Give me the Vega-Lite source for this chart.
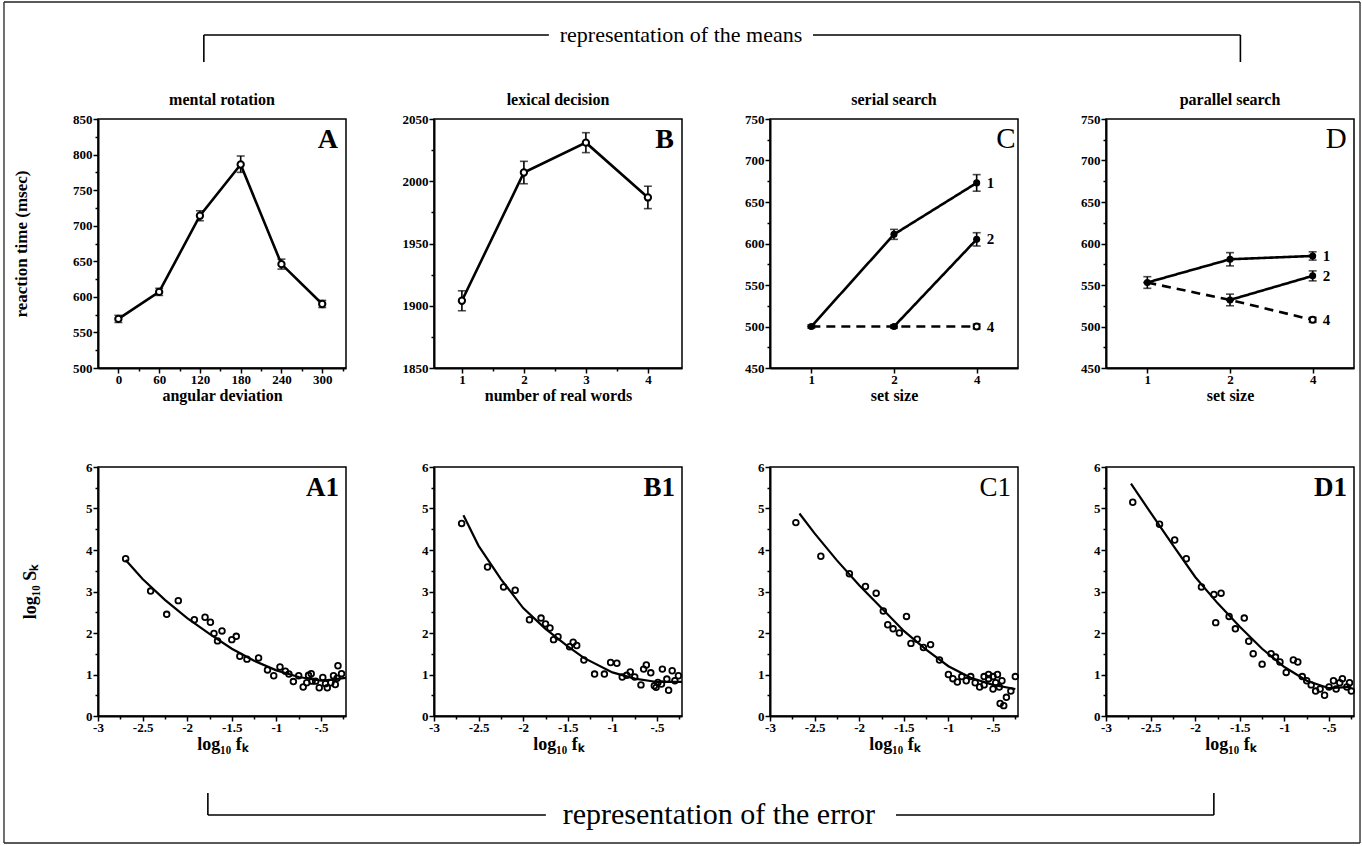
{
  "$schema": "https://vega.github.io/schema/vega-lite/v6.json",
  "background": "white",
  "padding": {"left": 3, "top": 0, "right": 0, "bottom": 0},
  "columns": 4,
  "bounds": "flush",
  "spacing": {"row": 99, "column": 88},
  "config": {
    "font": "Liberation Serif",
    "view": {"stroke": null},
    "axis": {"labelFont": "Liberation Serif", "labelFontWeight": "bold", "labelFontSize": 13, "labelColor": "black", "domainColor": "black", "domainWidth": 2, "tickColor": "black", "tickWidth": 1.5, "grid": false, "titleFont": "Liberation Serif", "titleFontWeight": "bold", "titleFontSize": 17, "titleColor": "black", "labelPadding": 1, "labelFlush": false, "labelOverlap": false},
    "axisX": {"labelPadding": 0, "titleFontSize": 16},
    "title": {"font": "Liberation Serif", "fontSize": 16, "fontWeight": "bold", "color": "black", "offset": 5}
  },
  "datasets": {
    "A": [
      {"deg": 0, "rt": 569, "lo": 564, "hi": 574},
      {"deg": 60, "rt": 607, "lo": 602, "hi": 612},
      {"deg": 120, "rt": 714, "lo": 707, "hi": 721},
      {"deg": 180, "rt": 786, "lo": 775, "hi": 798},
      {"deg": 240, "rt": 646, "lo": 639, "hi": 653},
      {"deg": 300, "rt": 590, "lo": 585, "hi": 595}
    ],
    "B": [
      {"n": 1, "rt": 1904, "lo": 1896, "hi": 1912},
      {"n": 2, "rt": 2007, "lo": 1998, "hi": 2016},
      {"n": 3, "rt": 2031, "lo": 2023, "hi": 2039},
      {"n": 4, "rt": 1987, "lo": 1978, "hi": 1996}
    ],
    "C": [
      {"size": "1", "series": "1", "rt": 500, "lo": 498, "hi": 502},
      {"size": "2", "series": "1", "rt": 611, "lo": 605, "hi": 617},
      {"size": "4", "series": "1", "rt": 673, "lo": 663, "hi": 683},
      {"size": "2", "series": "2", "rt": 500, "lo": 498, "hi": 502},
      {"size": "4", "series": "2", "rt": 605, "lo": 597, "hi": 613},
      {"size": "1", "series": "4", "rt": 500, "lo": 500, "hi": 500},
      {"size": "2", "series": "4", "rt": 500, "lo": 500, "hi": 500},
      {"size": "4", "series": "4", "rt": 500, "lo": 497, "hi": 503}
    ],
    "D": [
      {"size": "1", "series": "1", "rt": 553, "lo": 546, "hi": 560},
      {"size": "2", "series": "1", "rt": 581, "lo": 573, "hi": 589},
      {"size": "4", "series": "1", "rt": 585, "lo": 580, "hi": 590},
      {"size": "2", "series": "2", "rt": 532, "lo": 525, "hi": 539},
      {"size": "4", "series": "2", "rt": 561, "lo": 555, "hi": 567},
      {"size": "1", "series": "4", "rt": 553, "lo": 553, "hi": 553},
      {"size": "2", "series": "4", "rt": 532, "lo": 532, "hi": 532},
      {"size": "4", "series": "4", "rt": 508, "lo": 505, "hi": 511}
    ],
    "A1pts": [
      {"lf": -2.69, "ls": 3.79}, {"lf": -2.41, "ls": 3.01}, {"lf": -2.23, "ls": 2.45}, {"lf": -2.10, "ls": 2.78},
      {"lf": -1.92, "ls": 2.32}, {"lf": -1.80, "ls": 2.38}, {"lf": -1.74, "ls": 2.26}, {"lf": -1.70, "ls": 1.99},
      {"lf": -1.61, "ls": 2.05}, {"lf": -1.66, "ls": 1.81}, {"lf": -1.50, "ls": 1.84}, {"lf": -1.45, "ls": 1.92},
      {"lf": -1.41, "ls": 1.44}, {"lf": -1.33, "ls": 1.37}, {"lf": -1.20, "ls": 1.40}, {"lf": -1.10, "ls": 1.11},
      {"lf": -1.03, "ls": 0.97}, {"lf": -0.96, "ls": 1.18}, {"lf": -0.90, "ls": 1.08}, {"lf": -0.86, "ls": 1.01},
      {"lf": -0.81, "ls": 0.83}, {"lf": -0.75, "ls": 0.97}, {"lf": -0.70, "ls": 0.70}, {"lf": -0.66, "ls": 0.80},
      {"lf": -0.61, "ls": 1.02}, {"lf": -0.56, "ls": 0.84}, {"lf": -0.52, "ls": 0.68}, {"lf": -0.48, "ls": 0.93},
      {"lf": -0.43, "ls": 0.68}, {"lf": -0.39, "ls": 0.80}, {"lf": -0.36, "ls": 0.97}, {"lf": -0.32, "ls": 0.91},
      {"lf": -0.31, "ls": 1.21}, {"lf": -0.27, "ls": 1.02}, {"lf": -0.34, "ls": 0.76}, {"lf": -0.60, "ls": 0.84},
      {"lf": -0.64, "ls": 0.98}, {"lf": -0.45, "ls": 0.78}
    ],
    "A1fit": [
      {"lf": -2.69, "ls": 3.76}, {"lf": -2.5, "ls": 3.3}, {"lf": -2.25, "ls": 2.8}, {"lf": -2.0, "ls": 2.36},
      {"lf": -1.75, "ls": 1.98}, {"lf": -1.5, "ls": 1.62}, {"lf": -1.25, "ls": 1.33}, {"lf": -1.0, "ls": 1.1},
      {"lf": -0.75, "ls": 0.94}, {"lf": -0.5, "ls": 0.85}, {"lf": -0.22, "ls": 0.92}
    ],
    "B1pts": [
      {"lf": -2.69, "ls": 4.64}, {"lf": -2.40, "ls": 3.59}, {"lf": -2.22, "ls": 3.11}, {"lf": -2.09, "ls": 3.03},
      {"lf": -1.93, "ls": 2.32}, {"lf": -1.80, "ls": 2.36}, {"lf": -1.75, "ls": 2.22}, {"lf": -1.70, "ls": 2.12},
      {"lf": -1.66, "ls": 1.84}, {"lf": -1.61, "ls": 1.91}, {"lf": -1.48, "ls": 1.67}, {"lf": -1.44, "ls": 1.78},
      {"lf": -1.40, "ls": 1.70}, {"lf": -1.32, "ls": 1.35}, {"lf": -1.20, "ls": 1.01}, {"lf": -1.09, "ls": 1.01},
      {"lf": -1.02, "ls": 1.29}, {"lf": -0.95, "ls": 1.27}, {"lf": -0.89, "ls": 0.94}, {"lf": -0.84, "ls": 0.98},
      {"lf": -0.80, "ls": 1.06}, {"lf": -0.75, "ls": 0.94}, {"lf": -0.68, "ls": 0.75}, {"lf": -0.65, "ls": 1.13},
      {"lf": -0.62, "ls": 1.23}, {"lf": -0.57, "ls": 1.04}, {"lf": -0.53, "ls": 0.73}, {"lf": -0.49, "ls": 0.81},
      {"lf": -0.44, "ls": 1.13}, {"lf": -0.39, "ls": 0.89}, {"lf": -0.37, "ls": 0.62}, {"lf": -0.33, "ls": 1.09},
      {"lf": -0.30, "ls": 0.85}, {"lf": -0.26, "ls": 0.97}, {"lf": -0.51, "ls": 0.69}, {"lf": -0.45, "ls": 0.77}
    ],
    "B1fit": [
      {"lf": -2.67, "ls": 4.84}, {"lf": -2.5, "ls": 4.1}, {"lf": -2.25, "ls": 3.3}, {"lf": -2.0, "ls": 2.6},
      {"lf": -1.75, "ls": 2.1}, {"lf": -1.5, "ls": 1.68}, {"lf": -1.32, "ls": 1.4}, {"lf": -1.0, "ls": 1.05},
      {"lf": -0.75, "ls": 0.9}, {"lf": -0.5, "ls": 0.82}, {"lf": -0.22, "ls": 0.82}
    ],
    "C1pts": [
      {"lf": -2.71, "ls": 4.66}, {"lf": -2.43, "ls": 3.85}, {"lf": -2.11, "ls": 3.43}, {"lf": -1.93, "ls": 3.12},
      {"lf": -1.81, "ls": 2.96}, {"lf": -1.73, "ls": 2.53}, {"lf": -1.47, "ls": 2.40}, {"lf": -1.68, "ls": 2.2},
      {"lf": -1.62, "ls": 2.1}, {"lf": -1.55, "ls": 2.0}, {"lf": -1.42, "ls": 1.75}, {"lf": -1.35, "ls": 1.85},
      {"lf": -1.28, "ls": 1.65}, {"lf": -1.20, "ls": 1.72}, {"lf": -1.10, "ls": 1.35}, {"lf": -1.0, "ls": 1.0},
      {"lf": -0.95, "ls": 0.9}, {"lf": -0.9, "ls": 0.82}, {"lf": -0.85, "ls": 0.95}, {"lf": -0.8, "ls": 0.85},
      {"lf": -0.75, "ls": 0.95}, {"lf": -0.7, "ls": 0.8}, {"lf": -0.65, "ls": 0.7}, {"lf": -0.6, "ls": 0.75},
      {"lf": -0.55, "ls": 0.9}, {"lf": -0.5, "ls": 0.95}, {"lf": -0.47, "ls": 0.8}, {"lf": -0.45, "ls": 1.0},
      {"lf": -0.43, "ls": 0.7}, {"lf": -0.4, "ls": 0.85}, {"lf": -0.42, "ls": 0.3}, {"lf": -0.38, "ls": 0.25},
      {"lf": -0.35, "ls": 0.45}, {"lf": -0.3, "ls": 0.6}, {"lf": -0.25, "ls": 0.95}, {"lf": -0.5, "ls": 0.65},
      {"lf": -0.6, "ls": 0.95}, {"lf": -0.55, "ls": 1.0}
    ],
    "C1fit": [
      {"lf": -2.67, "ls": 4.88}, {"lf": -2.5, "ls": 4.4}, {"lf": -2.25, "ls": 3.75}, {"lf": -2.0, "ls": 3.15},
      {"lf": -1.75, "ls": 2.6}, {"lf": -1.5, "ls": 2.05}, {"lf": -1.25, "ls": 1.6}, {"lf": -1.0, "ls": 1.2},
      {"lf": -0.75, "ls": 0.92}, {"lf": -0.5, "ls": 0.75}, {"lf": -0.25, "ls": 0.65}
    ],
    "D1pts": [
      {"lf": -2.70, "ls": 5.15}, {"lf": -2.40, "ls": 4.62}, {"lf": -2.23, "ls": 4.24}, {"lf": -2.10, "ls": 3.79},
      {"lf": -1.93, "ls": 3.11}, {"lf": -1.79, "ls": 2.93}, {"lf": -1.71, "ls": 2.96}, {"lf": -1.62, "ls": 2.40},
      {"lf": -1.45, "ls": 2.36}, {"lf": -1.77, "ls": 2.25}, {"lf": -1.55, "ls": 2.1}, {"lf": -1.4, "ls": 1.8},
      {"lf": -1.35, "ls": 1.5}, {"lf": -1.25, "ls": 1.25}, {"lf": -1.15, "ls": 1.5}, {"lf": -1.1, "ls": 1.42},
      {"lf": -1.05, "ls": 1.3}, {"lf": -0.98, "ls": 1.05}, {"lf": -0.9, "ls": 1.35}, {"lf": -0.85, "ls": 1.3},
      {"lf": -0.8, "ls": 0.95}, {"lf": -0.75, "ls": 0.85}, {"lf": -0.7, "ls": 0.75}, {"lf": -0.65, "ls": 0.6},
      {"lf": -0.6, "ls": 0.65}, {"lf": -0.55, "ls": 0.5}, {"lf": -0.5, "ls": 0.7}, {"lf": -0.45, "ls": 0.85},
      {"lf": -0.42, "ls": 0.65}, {"lf": -0.38, "ls": 0.8}, {"lf": -0.35, "ls": 0.9}, {"lf": -0.3, "ls": 0.7},
      {"lf": -0.27, "ls": 0.8}, {"lf": -0.25, "ls": 0.6}
    ],
    "D1fit": [
      {"lf": -2.72, "ls": 5.6}, {"lf": -2.5, "ls": 4.9}, {"lf": -2.25, "ls": 4.12}, {"lf": -2.0, "ls": 3.35},
      {"lf": -1.75, "ls": 2.72}, {"lf": -1.5, "ls": 2.15}, {"lf": -1.25, "ls": 1.62}, {"lf": -1.0, "ls": 1.18},
      {"lf": -0.75, "ls": 0.85}, {"lf": -0.5, "ls": 0.67}, {"lf": -0.25, "ls": 0.7}
    ],
    "bracketTop": [
      {"x": 0.315, "x2": 1.342, "y": 35, "y2": 35},
      {"x": 2.128, "x2": 3.40, "y": 35, "y2": 35},
      {"x": 0.315, "x2": 0.315, "y": 35, "y2": 62},
      {"x": 3.40, "x2": 3.40, "y": 35, "y2": 62}
    ],
    "frame": [
      {"x": -0.2798, "x2": 3.756, "y": 2, "y2": 2},
      {"x": -0.2798, "x2": 3.756, "y": 843, "y2": 843},
      {"x": -0.2798, "x2": -0.2798, "y": 2, "y2": 843},
      {"x": 3.756, "x2": 3.756, "y": 2, "y2": 843}
    ],
    "bracketBot": [
      {"x": 0.327, "x2": 1.333, "y": 0, "y2": 0},
      {"x": 2.375, "x2": 3.321, "y": 0, "y2": 0},
      {"x": 0.327, "x2": 0.327, "y": -22, "y2": 0},
      {"x": 3.321, "x2": 3.321, "y": -22, "y2": 0}
    ]
  },
  "concat": [
    {
      "width": 248, "height": 20,
      "encoding": {
        "x": {"field": "x", "type": "quantitative", "scale": {"domain": [0, 0.738095], "nice": false, "zero": false}, "axis": null},
        "y": {"field": "y", "type": "quantitative", "scale": {"domain": [0, 20], "reverse": true, "nice": false, "zero": false}, "axis": null}
      },
      "layer": [
        {"data": {"name": "frame"}, "mark": {"type": "rule", "color": "#222222", "strokeWidth": 1.3},
         "encoding": {"x2": {"field": "x2"}, "y2": {"field": "y2"}}},
        {"data": {"name": "bracketTop"}, "mark": {"type": "rule", "color": "black", "strokeWidth": 1.6},
         "encoding": {"x2": {"field": "x2"}, "y2": {"field": "y2"}}},
        {"data": {"values": [{"x": 1.735, "y": 35, "label": "representation of the means"}]},
         "mark": {"type": "text", "font": "Liberation Serif", "fontSize": 22, "color": "black", "align": "center", "baseline": "middle"},
         "encoding": {"text": {"field": "label"}}}
      ]
    },
    {"width": 248, "height": 20, "data": {"values": []}, "mark": "point"},
    {"width": 248, "height": 20, "data": {"values": []}, "mark": "point"},
    {"width": 248, "height": 20, "data": {"values": []}, "mark": "point"},
    {
      "width": 248, "height": 249,
      "view": {"stroke": "black", "strokeWidth": 1.5},
      "title": "mental rotation",
      "data": {"name": "A"},
      "encoding": {
        "x": {"field": "deg", "type": "quantitative", "scale": {"domain": [-30, 335], "nice": false, "zero": false},
              "axis": {"title": "angular deviation", "titlePadding": 1, "labelOverlap": false, "values": [0, 30, 60, 90, 120, 150, 180, 210, 240, 270, 300, 330],
                       "labelExpr": "datum.value % 60 == 0 ? '' + datum.value : ''",
                       "tickSize": {"condition": {"test": "datum.value % 60 != 0", "value": 3}, "value": 5}}},
        "y": {"field": "rt", "type": "quantitative", "scale": {"domain": [500, 850], "nice": false, "zero": false},
              "axis": {"title": "reaction time (msec)", "titlePadding": 42, "labelOverlap": false, "values": [500, 525, 550, 575, 600, 625, 650, 675, 700, 725, 750, 775, 800, 825, 850],
                       "labelExpr": "datum.value % 50 == 0 ? '' + datum.value : ''",
                       "tickSize": {"condition": {"test": "datum.value % 50 != 0", "value": 3}, "value": 5}}}
      },
      "layer": [
        {"mark": {"type": "rule", "color": "black", "strokeWidth": 1.6},
         "encoding": {"y": {"field": "lo", "type": "quantitative"}, "y2": {"field": "hi"}}},
        {"mark": {"type": "tick", "orient": "horizontal", "color": "black", "size": 8, "thickness": 1.6},
         "encoding": {"y": {"field": "lo", "type": "quantitative"}}},
        {"mark": {"type": "tick", "orient": "horizontal", "color": "black", "size": 8, "thickness": 1.6},
         "encoding": {"y": {"field": "hi", "type": "quantitative"}}},
        {"mark": {"type": "line", "color": "black", "strokeWidth": 2.6}},
        {"mark": {"type": "point", "filled": true, "fill": "white", "stroke": "black", "strokeWidth": 2, "size": 40, "opacity": 1}},
        {"data": {"values": [{"panel": "A", "deg": 335, "rt": 850}]},
         "mark": {"type": "text", "font": "Liberation Serif", "fontSize": 28, "fontWeight": "bold", "color": "black", "align": "right", "baseline": "top", "dx": -8, "dy": 7},
         "encoding": {"text": {"field": "panel"}}}
      ]
    },
    {
      "width": 248, "height": 249,
      "view": {"stroke": "black", "strokeWidth": 1.5},
      "title": "lexical decision",
      "data": {"name": "B"},
      "encoding": {
        "x": {"field": "n", "type": "quantitative", "scale": {"domain": [0.55, 4.55], "nice": false, "zero": false},
              "axis": {"title": "number of real words", "titlePadding": 1, "labelOverlap": false, "values": [1, 1.5, 2, 2.5, 3, 3.5, 4],
                       "labelExpr": "datum.value % 1 == 0 ? '' + datum.value : ''",
                       "tickSize": {"condition": {"test": "datum.value % 1 != 0", "value": 3}, "value": 5}}},
        "y": {"field": "rt", "type": "quantitative", "scale": {"domain": [1850, 2050], "nice": false, "zero": false},
              "axis": {"title": null, "labelOverlap": false, "values": [1850, 1875, 1900, 1925, 1950, 1975, 2000, 2025, 2050],
                       "labelExpr": "datum.value % 50 == 0 ? '' + datum.value : ''",
                       "tickSize": {"condition": {"test": "datum.value % 50 != 0", "value": 3}, "value": 5}}}
      },
      "layer": [
        {"mark": {"type": "rule", "color": "black", "strokeWidth": 1.6},
         "encoding": {"y": {"field": "lo", "type": "quantitative"}, "y2": {"field": "hi"}}},
        {"mark": {"type": "tick", "orient": "horizontal", "color": "black", "size": 8, "thickness": 1.6},
         "encoding": {"y": {"field": "lo", "type": "quantitative"}}},
        {"mark": {"type": "tick", "orient": "horizontal", "color": "black", "size": 8, "thickness": 1.6},
         "encoding": {"y": {"field": "hi", "type": "quantitative"}}},
        {"mark": {"type": "line", "color": "black", "strokeWidth": 2.6}},
        {"mark": {"type": "point", "filled": true, "fill": "white", "stroke": "black", "strokeWidth": 2, "size": 40, "opacity": 1}},
        {"data": {"values": [{"panel": "B", "n": 4.55, "rt": 2050}]},
         "mark": {"type": "text", "font": "Liberation Serif", "fontSize": 28, "fontWeight": "bold", "color": "black", "align": "right", "baseline": "top", "dx": -8, "dy": 7},
         "encoding": {"text": {"field": "panel"}}}
      ]
    },
    {
      "width": 248, "height": 249,
      "view": {"stroke": "black", "strokeWidth": 1.5},
      "title": "serial search",
      "data": {"name": "C"},
      "encoding": {
        "x": {"field": "size", "type": "ordinal", "scale": {"type": "point", "domain": ["1", "2", "4"], "padding": 0.5},
              "axis": {"title": "set size", "titlePadding": 1, "labelAngle": 0, "tickSize": 5}},
        "y": {"field": "rt", "type": "quantitative", "scale": {"domain": [450, 750], "nice": false, "zero": false},
              "axis": {"title": null, "labelOverlap": false, "values": [450, 475, 500, 525, 550, 575, 600, 625, 650, 675, 700, 725, 750],
                       "labelExpr": "datum.value % 50 == 0 ? '' + datum.value : ''",
                       "tickSize": {"condition": {"test": "datum.value % 50 != 0", "value": 3}, "value": 5}}}
      },
      "layer": [
        {"mark": {"type": "rule", "color": "black", "strokeWidth": 1.6},
         "encoding": {"y": {"field": "lo", "type": "quantitative"}, "y2": {"field": "hi"}}},
        {"mark": {"type": "tick", "orient": "horizontal", "color": "black", "size": 8, "thickness": 1.6},
         "encoding": {"y": {"field": "lo", "type": "quantitative"}}},
        {"mark": {"type": "tick", "orient": "horizontal", "color": "black", "size": 8, "thickness": 1.6},
         "encoding": {"y": {"field": "hi", "type": "quantitative"}}},
        {"mark": {"type": "line", "color": "black", "strokeWidth": 2.6},
         "encoding": {"detail": {"field": "series"},
                      "strokeDash": {"field": "series", "type": "nominal", "scale": {"domain": ["1", "2", "4"], "range": [[1, 0], [1, 0], [9, 6]]}, "legend": null}}},
        {"transform": [{"filter": "datum.series != '4'"}],
         "mark": {"type": "point", "filled": true, "color": "black", "size": 50, "opacity": 1}},
        {"transform": [{"filter": "datum.series == '4' && datum.size == '4'"}],
         "mark": {"type": "point", "filled": true, "fill": "white", "stroke": "black", "strokeWidth": 2, "size": 36, "opacity": 1}},
        {"transform": [{"filter": "datum.size == '4'"}],
         "mark": {"type": "text", "font": "Liberation Serif", "fontSize": 15, "fontWeight": "bold", "color": "black", "align": "left", "baseline": "middle", "dx": 10},
         "encoding": {"text": {"field": "series"}}},
        {"data": {"values": [{"panel": "C", "size": "4", "rt": 750}]},
         "mark": {"type": "text", "font": "Liberation Serif", "fontSize": 29, "color": "black", "align": "right", "baseline": "top", "dx": 39, "dy": 6},
         "encoding": {"text": {"field": "panel"}}}
      ]
    },
    {
      "width": 248, "height": 249,
      "view": {"stroke": "black", "strokeWidth": 1.5},
      "title": "parallel search",
      "data": {"name": "D"},
      "encoding": {
        "x": {"field": "size", "type": "ordinal", "scale": {"type": "point", "domain": ["1", "2", "4"], "padding": 0.5},
              "axis": {"title": "set size", "titlePadding": 1, "labelAngle": 0, "tickSize": 5}},
        "y": {"field": "rt", "type": "quantitative", "scale": {"domain": [450, 750], "nice": false, "zero": false},
              "axis": {"title": null, "labelOverlap": false, "values": [450, 475, 500, 525, 550, 575, 600, 625, 650, 675, 700, 725, 750],
                       "labelExpr": "datum.value % 50 == 0 ? '' + datum.value : ''",
                       "tickSize": {"condition": {"test": "datum.value % 50 != 0", "value": 3}, "value": 5}}}
      },
      "layer": [
        {"mark": {"type": "rule", "color": "black", "strokeWidth": 1.6},
         "encoding": {"y": {"field": "lo", "type": "quantitative"}, "y2": {"field": "hi"}}},
        {"mark": {"type": "tick", "orient": "horizontal", "color": "black", "size": 8, "thickness": 1.6},
         "encoding": {"y": {"field": "lo", "type": "quantitative"}}},
        {"mark": {"type": "tick", "orient": "horizontal", "color": "black", "size": 8, "thickness": 1.6},
         "encoding": {"y": {"field": "hi", "type": "quantitative"}}},
        {"mark": {"type": "line", "color": "black", "strokeWidth": 2.6},
         "encoding": {"detail": {"field": "series"},
                      "strokeDash": {"field": "series", "type": "nominal", "scale": {"domain": ["1", "2", "4"], "range": [[1, 0], [1, 0], [9, 6]]}, "legend": null}}},
        {"transform": [{"filter": "datum.series != '4'"}],
         "mark": {"type": "point", "filled": true, "color": "black", "size": 50, "opacity": 1}},
        {"transform": [{"filter": "datum.series == '4' && datum.size == '4'"}],
         "mark": {"type": "point", "filled": true, "fill": "white", "stroke": "black", "strokeWidth": 2, "size": 36, "opacity": 1}},
        {"transform": [{"filter": "datum.size == '4'"}],
         "mark": {"type": "text", "font": "Liberation Serif", "fontSize": 15, "fontWeight": "bold", "color": "black", "align": "left", "baseline": "middle", "dx": 10},
         "encoding": {"text": {"field": "series"}}},
        {"data": {"values": [{"panel": "D", "size": "4", "rt": 750}]},
         "mark": {"type": "text", "font": "Liberation Serif", "fontSize": 29, "color": "black", "align": "right", "baseline": "top", "dx": 34, "dy": 6},
         "encoding": {"text": {"field": "panel"}}}
      ]
    },
    {
      "width": 248, "height": 249,
      "view": {"stroke": "black", "strokeWidth": 1.5},
      "encoding": {
        "x": {"field": "lf", "type": "quantitative", "title": "log₁₀ fₖ", "scale": {"domain": [-3, -0.22], "nice": false, "zero": false},
              "axis": {"titleFontSize": 18, "titlePadding": 1, "labelOverlap": false, "values": [-3, -2.75, -2.5, -2.25, -2, -1.75, -1.5, -1.25, -1, -0.75, -0.5, -0.25],
                       "labelExpr": "(datum.value * 2) % 1 != 0 ? '' : (datum.value == -0.5 ? '-.5' : '' + datum.value)",
                       "tickSize": {"condition": {"test": "(datum.value * 2) % 1 != 0", "value": 3}, "value": 5}}},
        "y": {"field": "ls", "type": "quantitative", "title": "log₁₀ Sₖ", "scale": {"domain": [0, 6], "nice": false, "zero": false},
              "axis": {"titleFontSize": 18, "titlePadding": 46, "labelOverlap": false, "values": [0, 0.5, 1, 1.5, 2, 2.5, 3, 3.5, 4, 4.5, 5, 5.5, 6],
                       "labelExpr": "datum.value % 1 != 0 ? '' : '' + datum.value",
                       "tickSize": {"condition": {"test": "datum.value % 1 != 0", "value": 3}, "value": 5}}}
      },
      "layer": [
        {"data": {"name": "A1fit"}, "mark": {"type": "line", "color": "black", "strokeWidth": 2.2}},
        {"data": {"name": "A1pts"}, "mark": {"type": "point", "filled": false, "color": "black", "strokeWidth": 1.8, "size": 32, "opacity": 1}},
        {"data": {"values": [{"panel": "A1", "lf": -0.22, "ls": 6}]},
         "mark": {"type": "text", "font": "Liberation Serif", "fontSize": 27, "fontWeight": "bold", "color": "black", "align": "right", "baseline": "top", "dx": -7, "dy": 8},
         "encoding": {"text": {"field": "panel"}}}
      ]
    },
    {
      "width": 248, "height": 249,
      "view": {"stroke": "black", "strokeWidth": 1.5},
      "encoding": {
        "x": {"field": "lf", "type": "quantitative", "title": "log₁₀ fₖ", "scale": {"domain": [-3, -0.22], "nice": false, "zero": false},
              "axis": {"titleFontSize": 18, "titlePadding": 1, "labelOverlap": false, "values": [-3, -2.75, -2.5, -2.25, -2, -1.75, -1.5, -1.25, -1, -0.75, -0.5, -0.25],
                       "labelExpr": "(datum.value * 2) % 1 != 0 ? '' : (datum.value == -0.5 ? '-.5' : '' + datum.value)",
                       "tickSize": {"condition": {"test": "(datum.value * 2) % 1 != 0", "value": 3}, "value": 5}}},
        "y": {"field": "ls", "type": "quantitative", "title": null, "scale": {"domain": [0, 6], "nice": false, "zero": false},
              "axis": {"labelOverlap": false, "values": [0, 0.5, 1, 1.5, 2, 2.5, 3, 3.5, 4, 4.5, 5, 5.5, 6],
                       "labelExpr": "datum.value % 1 != 0 ? '' : '' + datum.value",
                       "tickSize": {"condition": {"test": "datum.value % 1 != 0", "value": 3}, "value": 5}}}
      },
      "layer": [
        {"data": {"name": "B1fit"}, "mark": {"type": "line", "color": "black", "strokeWidth": 2.2}},
        {"data": {"name": "B1pts"}, "mark": {"type": "point", "filled": false, "color": "black", "strokeWidth": 1.8, "size": 32, "opacity": 1}},
        {"data": {"values": [{"panel": "B1", "lf": -0.22, "ls": 6}]},
         "mark": {"type": "text", "font": "Liberation Serif", "fontSize": 27, "fontWeight": "bold", "color": "black", "align": "right", "baseline": "top", "dx": -7, "dy": 8},
         "encoding": {"text": {"field": "panel"}}}
      ]
    },
    {
      "width": 248, "height": 249,
      "view": {"stroke": "black", "strokeWidth": 1.5},
      "encoding": {
        "x": {"field": "lf", "type": "quantitative", "title": "log₁₀ fₖ", "scale": {"domain": [-3, -0.22], "nice": false, "zero": false},
              "axis": {"titleFontSize": 18, "titlePadding": 1, "labelOverlap": false, "values": [-3, -2.75, -2.5, -2.25, -2, -1.75, -1.5, -1.25, -1, -0.75, -0.5, -0.25],
                       "labelExpr": "(datum.value * 2) % 1 != 0 ? '' : (datum.value == -0.5 ? '-.5' : '' + datum.value)",
                       "tickSize": {"condition": {"test": "(datum.value * 2) % 1 != 0", "value": 3}, "value": 5}}},
        "y": {"field": "ls", "type": "quantitative", "title": null, "scale": {"domain": [0, 6], "nice": false, "zero": false},
              "axis": {"labelOverlap": false, "values": [0, 0.5, 1, 1.5, 2, 2.5, 3, 3.5, 4, 4.5, 5, 5.5, 6],
                       "labelExpr": "datum.value % 1 != 0 ? '' : '' + datum.value",
                       "tickSize": {"condition": {"test": "datum.value % 1 != 0", "value": 3}, "value": 5}}}
      },
      "layer": [
        {"data": {"name": "C1fit"}, "mark": {"type": "line", "color": "black", "strokeWidth": 2.2}},
        {"data": {"name": "C1pts"}, "mark": {"type": "point", "filled": false, "color": "black", "strokeWidth": 1.8, "size": 32, "opacity": 1}},
        {"data": {"values": [{"panel": "C1", "lf": -0.22, "ls": 6}]},
         "mark": {"type": "text", "font": "Liberation Serif", "fontSize": 27, "color": "black", "align": "right", "baseline": "top", "dx": -7, "dy": 8},
         "encoding": {"text": {"field": "panel"}}}
      ]
    },
    {
      "width": 248, "height": 249,
      "view": {"stroke": "black", "strokeWidth": 1.5},
      "encoding": {
        "x": {"field": "lf", "type": "quantitative", "title": "log₁₀ fₖ", "scale": {"domain": [-3, -0.22], "nice": false, "zero": false},
              "axis": {"titleFontSize": 18, "titlePadding": 1, "labelOverlap": false, "values": [-3, -2.75, -2.5, -2.25, -2, -1.75, -1.5, -1.25, -1, -0.75, -0.5, -0.25],
                       "labelExpr": "(datum.value * 2) % 1 != 0 ? '' : (datum.value == -0.5 ? '-.5' : '' + datum.value)",
                       "tickSize": {"condition": {"test": "(datum.value * 2) % 1 != 0", "value": 3}, "value": 5}}},
        "y": {"field": "ls", "type": "quantitative", "title": null, "scale": {"domain": [0, 6], "nice": false, "zero": false},
              "axis": {"labelOverlap": false, "values": [0, 0.5, 1, 1.5, 2, 2.5, 3, 3.5, 4, 4.5, 5, 5.5, 6],
                       "labelExpr": "datum.value % 1 != 0 ? '' : '' + datum.value",
                       "tickSize": {"condition": {"test": "datum.value % 1 != 0", "value": 3}, "value": 5}}}
      },
      "layer": [
        {"data": {"name": "D1fit"}, "mark": {"type": "line", "color": "black", "strokeWidth": 2.2}},
        {"data": {"name": "D1pts"}, "mark": {"type": "point", "filled": false, "color": "black", "strokeWidth": 1.8, "size": 32, "opacity": 1}},
        {"data": {"values": [{"panel": "D1", "lf": -0.22, "ls": 6}]},
         "mark": {"type": "text", "font": "Liberation Serif", "fontSize": 27, "fontWeight": "bold", "color": "black", "align": "right", "baseline": "top", "dx": -7, "dy": 8},
         "encoding": {"text": {"field": "panel"}}}
      ]
    },
    {
      "width": 248, "height": 20,
      "layer": [
        {"data": {"name": "bracketBot"}, "mark": {"type": "rule", "color": "black", "strokeWidth": 1.6},
         "encoding": {
           "x": {"field": "x", "type": "quantitative", "scale": {"domain": [0, 0.738095], "nice": false, "zero": false}, "axis": null},
           "x2": {"field": "x2"},
           "y": {"field": "y", "type": "quantitative", "scale": {"domain": [0, 20], "reverse": true, "nice": false, "zero": false}, "axis": null},
           "y2": {"field": "y2"}}},
        {"data": {"values": [{"x": 1.848, "y": 0, "label": "representation of the error"}]},
         "mark": {"type": "text", "font": "Liberation Serif", "fontSize": 30, "color": "black", "align": "center", "baseline": "middle"},
         "encoding": {"x": {"field": "x", "type": "quantitative"}, "y": {"field": "y", "type": "quantitative"}, "text": {"field": "label"}}}
      ]
    },
    {"width": 248, "height": 20, "data": {"values": []}, "mark": "point"},
    {"width": 248, "height": 20, "data": {"values": []}, "mark": "point"},
    {"width": 248, "height": 20, "data": {"values": []}, "mark": "point"}
  ]
}
